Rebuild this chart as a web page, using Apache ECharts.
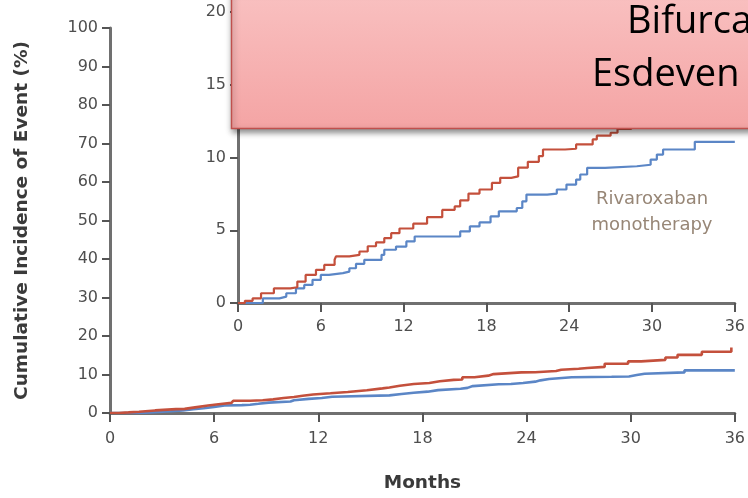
<!DOCTYPE html>
<html><head><meta charset="utf-8">
<script src="https://cdn.jsdelivr.net/npm/echarts@6/dist/echarts.min.js"></script>
<style>html,body{margin:0;padding:0;background:#fff;overflow:hidden;width:748px;height:498px}#c{width:748px;height:498px}</style>
</head><body><div id="c"></div>
<script>
// Data (months, cumulative incidence %)
const redMonths = [0,0.5,1.06,1.67,2.6,3.8,4.3,4.9,5.65,6.25,7.0,7.1,8.07,8.8,9.4,10.0,10.6,11.1,11.7,12.7,13.7,14.8,15.7,16.1,16.7,17.5,18.4,19.0,19.8,20.3,21.0,21.8,22.1,23.7,24.5,25.7,26.0,27.0,27.5,28.5,29.85,30.6,32.0,32.7,34.1,35.8];
const redValues = [0,0.15,0.32,0.67,1.0,1.08,1.47,1.93,2.28,2.62,2.97,3.2,3.31,3.54,3.9,4.16,4.46,4.8,5.12,5.45,5.9,6.4,6.64,7.06,7.52,7.8,8.25,8.6,8.7,9.3,9.7,10.1,10.55,10.6,10.9,11.24,11.5,11.7,11.97,12.8,13.4,13.8,14.4,15.1,15.9,17.0];
const blueMonths = [0,1.8,3.0,3.5,4.2,4.8,5.4,6.0,6.6,7.6,8.07,8.55,9.15,10.4,10.6,11.45,12.2,12.8,16.1,16.8,17.5,18.3,18.9,20.2,20.6,20.9,22.4,23.1,23.8,24.5,24.8,25.3,26.6,28.9,29.9,30.35,30.8,33.1,36];
const blueValues = [0,0.32,0.44,0.67,1.01,1.24,1.59,1.93,2.05,2.16,2.39,2.69,2.97,3.31,3.66,3.88,4.23,4.57,4.92,5.26,5.54,5.95,6.3,6.53,6.99,7.45,7.52,7.8,8.14,8.48,8.83,9.29,9.4,9.5,9.86,10.2,10.55,11.08,11.08];
const mainYTicks = [0,10,20,30,40,50,60,70,80,90,100];
const insetYTicks = [0,5,10,15,20];
const monthTicks = [0,6,12,18,24,30,36];
const yAxisTitle = 'Cumulative Incidence of Event (%)';
const xAxisTitle = 'Months';
const seriesLabel = ['Rivaroxaban', 'monotherapy'];
const boxLines = ['Bifurca', 'Esdeven'];

const RED = '#c4503c', BLUE = '#5b86c6';
const pair = (xs, ys) => xs.map((x, i) => [x, ys[i]]);
const labelStyle = {color:'#4e4e4e', fontFamily:'DejaVu Sans', fontSize:16};
const nameStyle = {color:'#3a3a3a', fontFamily:'DejaVu Sans', fontWeight:'bold', fontSize:18.5};
function xAxis(gridIndex, margin, showName){
  return {type:'value', gridIndex, min:0, max:36, interval:6,
    axisLine:{show:true, onZero:false, lineStyle:{color:'#707070', width:3}},
    axisTick:{show:true, length:9, lineStyle:{color:'#555', width:2}},
    splitLine:{show:false},
    axisLabel:Object.assign({margin, formatter:v=>monthTicks.includes(v)?String(v):''}, labelStyle),
    name: showName ? xAxisTitle : '', nameLocation:'middle', nameGap:61, nameTextStyle:nameStyle};
}
function yAxis(gridIndex, max, interval, ticks, showName){
  return {type:'value', gridIndex, min:0, max, interval,
    axisLine:{show:true, lineStyle:{color:'#707070', width:3}},
    axisTick:{show:true, length:8, lineStyle:{color:'#555', width:2}},
    splitLine:{show:false},
    axisLabel:Object.assign({margin:12, formatter:v=>ticks.includes(v)?String(v):''}, labelStyle),
    name: showName ? yAxisTitle : '', nameLocation:'middle', nameGap:78, nameRotate:90, nameTextStyle:nameStyle};
}
function line(name, data, color, xi, width){
  return {type:'line', name, xAxisIndex:xi, yAxisIndex:xi, data, step:'end', symbol:'none',
    lineStyle:{color, width}, silent:true, animation:false};
}
const chart = echarts.init(document.getElementById('c'), null, {renderer:'canvas', width:748, height:498});
chart.setOption({
  animation:false,
  backgroundColor:'#fff',
  grid:[{left:110, width:627, top:28, height:389},
        {left:238, width:497, top:12, height:291}],
  xAxis:[xAxis(0, 18, true), xAxis(1, 16, false)],
  yAxis:[yAxis(0, 100, 10, mainYTicks, true), yAxis(1, 20, 5, insetYTicks, false)],
  series:[
    line('blue-main', pair(blueMonths, blueValues), BLUE, 0, 2.6),
    line('red-main', pair(redMonths, redValues), RED, 0, 2.6),
    line('blue-inset', pair(blueMonths, blueValues), BLUE, 1, 2.2),
    line('red-inset', pair(redMonths, redValues), RED, 1, 2.2)
  ],
  graphic:[
    {type:'text', z:50, x:652, y:199, style:{text:seriesLabel[0], align:'center', verticalAlign:'middle',
      fill:'#978676', font:'18px "DejaVu Sans"'}},
    {type:'text', z:50, x:652, y:225, style:{text:seriesLabel[1], align:'center', verticalAlign:'middle',
      fill:'#978676', font:'18px "DejaVu Sans"'}},
    {type:'rect', z:100, shape:{x:231.5, y:-10, width:540, height:138.5},
      style:{fill:new echarts.graphic.LinearGradient(0,0,0,1,[{offset:0,color:'#f9c1c1'},{offset:1,color:'#f4a4a4'}]),
        stroke:'#c0504d', lineWidth:1.5, shadowBlur:6, shadowOffsetY:3, shadowOffsetX:1, shadowColor:'rgba(0,0,0,0.45)'}},
    {type:'text', z:101, x:627, y:22, style:{text:boxLines[0], verticalAlign:'middle', fill:'#000', font:'38px "Open Sans"'}},
    {type:'text', z:101, x:592, y:75, style:{text:boxLines[1], verticalAlign:'middle', fill:'#000', font:'38px "Open Sans"'}}
  ]
});
</script></body></html>
